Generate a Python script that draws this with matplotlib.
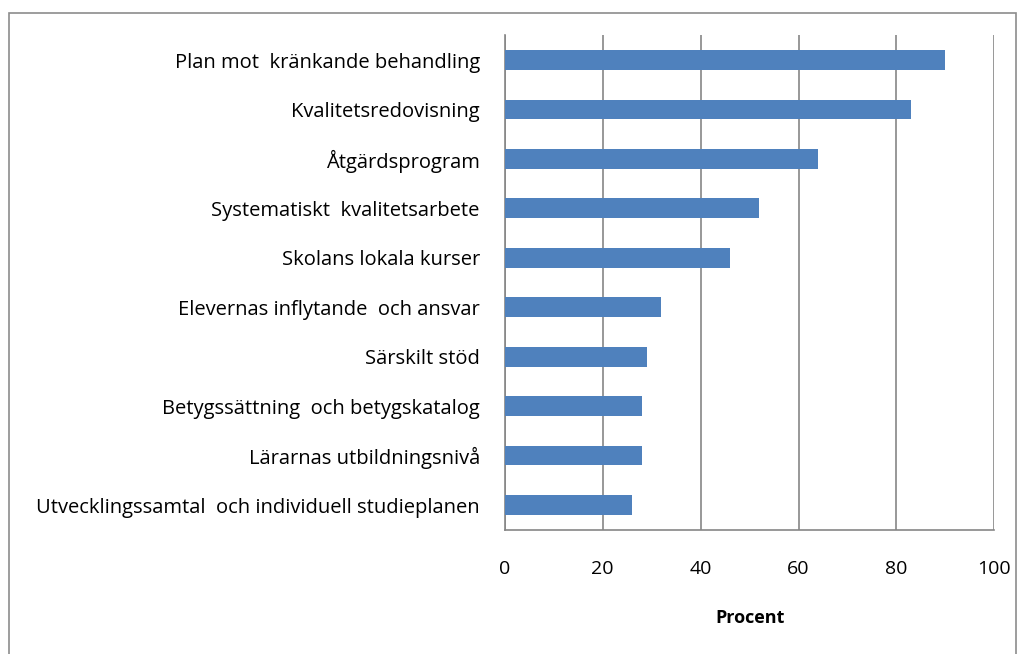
import matplotlib
matplotlib.use('Agg')
import matplotlib.pyplot as plt
from matplotlib.patches import Rectangle

categories = [
    'Plan mot  kränkande behandling',
    'Kvalitetsredovisning',
    'Åtgärdsprogram',
    'Systematiskt  kvalitetsarbete',
    'Skolans lokala kurser',
    'Elevernas inflytande  och ansvar',
    'Särskilt stöd',
    'Betygssättning  och betygskatalog',
    'Lärarnas utbildningsnivå',
    'Utvecklingssamtal  och individuell studieplanen',
]
values = [90, 83, 64, 52, 46, 32, 29, 28, 28, 26]
xticks = [0, 20, 40, 60, 80, 100]

plt.rcParams['font.family'] = ['Open Sans', 'DejaVu Sans']

fig = plt.figure(figsize=(10.24, 6.54), dpi=100)
ax = fig.add_axes([0.493, 0.190, 0.478, 0.756])

pos = list(range(len(categories)))[::-1]
ax.barh(pos, values, height=0.4, color='#4f81bd', zorder=3)

ax.set_xlim(0, 100)
ax.set_ylim(-0.5, len(categories) - 0.5)
ax.set_xticks(xticks)
ax.set_yticks(pos)
ax.set_yticklabels(categories, fontsize=14.5)
ax.tick_params(axis='x', labelsize=14, length=0, pad=22)
ax.tick_params(axis='y', length=0, pad=18)
ax.grid(axis='x', color='#868686', linewidth=1.2, zorder=0)
for s in ['top', 'right']:
    ax.spines[s].set_visible(False)
ax.spines['left'].set_color('#868686')
ax.spines['bottom'].set_color('#868686')
ax.spines['left'].set_linewidth(1.2)
ax.spines['bottom'].set_linewidth(1.2)
ax.set_xlabel('Procent', fontsize=13, fontweight='bold', labelpad=22)

fig.patches.append(Rectangle((0.009, -0.02), 0.983, 1.0, transform=fig.transFigure,
                             fill=False, edgecolor='#8c8c8c', linewidth=1.2))

fig.savefig('out.png', dpi=100)
